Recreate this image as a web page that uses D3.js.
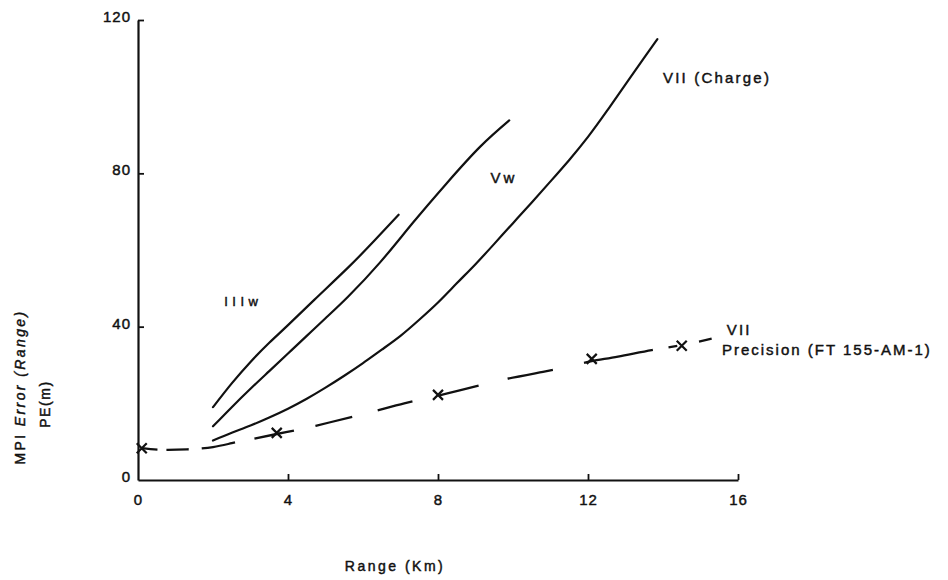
<!DOCTYPE html>
<html>
<head>
<meta charset="utf-8">
<script src="https://cdn.jsdelivr.net/npm/d3@7"></script>
<style>
  html, body { margin: 0; padding: 0; background: #fff; }
  svg { display: block; font-family: "Liberation Sans", Arial, Helvetica, sans-serif; }
  svg text { stroke: #111; stroke-width: 0.45px; }
</style>
</head>
<body>
<svg id="chart" width="948" height="580"></svg>
<script>
// ---- data ----
const xTicks = [0, 4, 8, 12, 16];
const yTicks = [0, 40, 80, 120];

const seriesIIIw = [[2.0,19.0],[2.5,25.2],[3.0,30.8],[3.5,35.8],[4.0,40.4],[4.7,47.0],[5.6,55.4],[6.3,62.4],[6.95,69.2]];
const seriesVw = [[2.0,14.0],[2.5,19.0],[3.0,23.8],[3.5,28.4],[4.0,33.0],[4.5,37.6],[5.0,42.2],[5.6,47.8],[6.45,56.7],[7.33,67.1],[8.24,77.5],[9.12,86.9],[9.9,93.8]];
const seriesVIICharge = [[2.0,10.3],[2.5,12.3],[3.0,14.2],[3.5,16.3],[4.0,18.6],[4.5,21.2],[5.0,24.1],[5.5,27.2],[6.0,30.5],[6.5,34.0],[7.0,37.6],[7.5,41.8],[8.0,46.3],[8.5,51.3],[9.0,56.3],[9.5,61.6],[10.0,67.0],[10.5,72.4],[11.0,77.9],[11.5,83.5],[12.0,89.5],[12.5,96.2],[13.0,103.2],[13.5,110.2],[13.85,115.0]];
const seriesPrecision = [[0.1,8.3],[0.6,7.9],[1.3,8.0],[2.0,8.6],[2.5,9.6],[3.0,10.6],[3.7,12.0],[4.5,13.6],[5.1,15.0],[6.1,17.4],[7.1,20.0],[8.0,22.0],[9.0,24.4],[9.8,26.3],[10.8,28.2],[11.6,29.8],[12.1,31.0],[12.8,32.2],[13.7,33.9],[14.5,35.2],[15.5,37.3]];
const precisionMarkers = [[0.1,8.3],[3.7,12.3],[8.0,22.2],[12.1,31.6],[14.5,35.0]];

const labels = [
  {text: "IIIw", x: 2.3, y: 45.5, size: 13, spacing: 4.5},
  {text: "Vw", x: 9.4, y: 77.5, size: 15, spacing: 3},
  {text: "VII (Charge)", x: 14.0, y: 103.5, size: 15, spacing: 2.2},
  {text: "VII", x: 15.7, y: 37.8, size: 15, spacing: 2.2},
  {text: "Precision (FT 155-AM-1)", x: 15.57, y: 32.6, size: 15, spacing: 2.0}
];

// ---- layout ----
const svg = d3.select("#chart");
const x = d3.scaleLinear().domain([0, 16]).range([138, 738]);
const y = d3.scaleLinear().domain([0, 120]).range([480, 20]);

const ink = "#111";

// axes
const xAxis = d3.axisBottom(x).tickValues(xTicks).tickSize(-6).tickSizeOuter(0).tickPadding(14);
const yAxis = d3.axisLeft(y).tickValues(yTicks).tickSize(-6).tickSizeOuter(0).tickPadding(7);

const gx = svg.append("g").attr("transform", `translate(0,${y(0)})`).call(xAxis);
const gy = svg.append("g").attr("transform", `translate(${x(0)},0)`).call(yAxis);

[gx, gy].forEach(g => {
  g.select(".domain").attr("stroke", ink).attr("stroke-width", 2.2);
  g.selectAll(".tick line").attr("stroke", ink).attr("stroke-width", 1.8);
  g.selectAll(".tick text").attr("fill", ink).attr("font-size", 15)
    .attr("font-family", "'Liberation Sans', Arial, sans-serif").attr("letter-spacing", 1);
});
gx.selectAll(".tick").filter(d => d === 0).select("line").remove();
gy.selectAll(".tick").filter(d => d === 0).select("line").remove();
gy.selectAll(".tick text").attr("dy", "0.1em");

// lines
const line = d3.line().x(d => x(d[0])).y(d => y(d[1])).curve(d3.curveNatural);

[seriesIIIw, seriesVw, seriesVIICharge].forEach(s => {
  svg.append("path").datum(s).attr("d", line)
    .attr("fill", "none").attr("stroke", ink).attr("stroke-width", 2.2).attr("stroke-linecap", "round");
});

svg.append("path").datum(seriesPrecision).attr("d", line)
  .attr("fill", "none").attr("stroke", ink).attr("stroke-width", 2.3)
  .attr("stroke-dasharray", "16,9,22,13,34,20,40,22,38,26,36,28,40,30,46,32,70")
  .attr("stroke-linecap", "butt");

// X markers
svg.append("g").selectAll("path").data(precisionMarkers).join("path")
  .attr("transform", d => `translate(${x(d[0])},${y(d[1])})`)
  .attr("d", "M-5,-5L5,5M-5,5L5,-5")
  .attr("stroke", ink).attr("stroke-width", 2.2).attr("fill", "none");

// series labels
svg.append("g").selectAll("text").data(labels).join("text")
  .attr("x", d => x(d.x)).attr("y", d => y(d.y))
  .attr("font-size", d => d.size).attr("letter-spacing", d => d.spacing)
  .attr("fill", ink).text(d => d.text);

// axis titles
svg.append("text").attr("x", 395).attr("y", 571).attr("text-anchor", "middle")
  .attr("font-size", 14).attr("letter-spacing", 2.5).attr("fill", ink).text("Range (Km)");

const yt = svg.append("text").attr("transform", "translate(25,387) rotate(-90)")
  .attr("text-anchor", "middle").attr("font-size", 14).attr("letter-spacing", 2.4).attr("fill", ink);
yt.append("tspan").text("MPI ");
yt.append("tspan").attr("font-style", "italic").text("Error (Range)");

svg.append("text").attr("transform", "translate(50,404) rotate(-90)")
  .attr("text-anchor", "middle").attr("font-size", 14).attr("letter-spacing", 1.6).attr("fill", ink).text("PE(m)");
</script>
</body>
</html>
